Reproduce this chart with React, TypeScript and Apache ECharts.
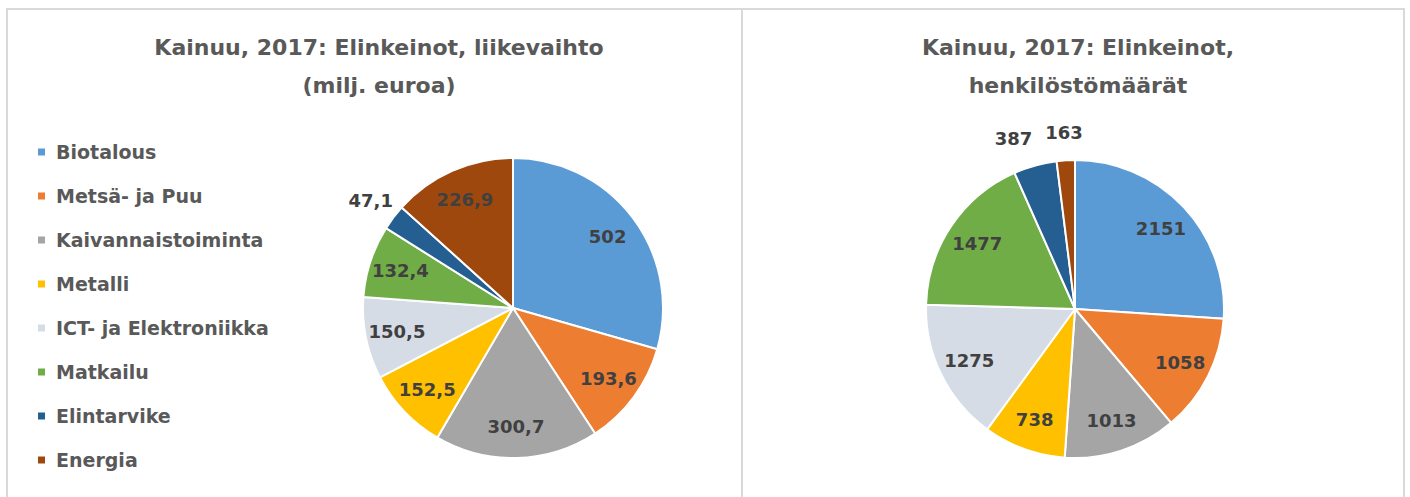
import React, { useEffect, useRef } from "react";
import * as echarts from "echarts";

const categories = [
  "Biotalous",
  "Metsä- ja Puu",
  "Kaivannaistoiminta",
  "Metalli",
  "ICT- ja Elektroniikka",
  "Matkailu",
  "Elintarvike",
  "Energia",
];
const turnover = [502, 193.6, 300.7, 152.5, 150.5, 132.4, 47.1, 226.9];
const personnel = [2151, 1058, 1013, 738, 1275, 1477, 387, 163];
const colors = ["#5B9BD5", "#ED7D31", "#A5A5A5", "#FFC000", "#D6DCE5", "#70AD47", "#255E91", "#9E480E"];
const outsideLeft = ["Elintarvike"];
const outsideRight = ["Elintarvike", "Energia"];
const titleLeft = "Kainuu, 2017: Elinkeinot, liikevaihto\n(milj. euroa)";
const titleRight = "Kainuu, 2017: Elinkeinot,\nhenkilöstömäärät";

const FONT = "'DejaVu Sans', 'Open Sans', sans-serif";
const fmt = (v: number) => String(v).replace(".", ",");

function pieSeries(
  values: number[],
  center: [number, number],
  r: number,
  outside: string[],
  outerLayout: (p: any) => any
) {
  const main = {
    type: "pie",
    center,
    radius: [0, r],
    startAngle: 90,
    clockwise: true,
    label: { show: false },
    labelLine: { show: false },
    emphasis: { disabled: true },
    itemStyle: { borderColor: "#ffffff", borderWidth: 2 },
    data: categories.map((name, i) => ({ name, value: values[i], itemStyle: { color: colors[i] } })),
  };
  const labelStyle = {
    position: "inside",
    formatter: (p: any) => fmt(p.value),
    fontFamily: FONT,
    fontSize: 18,
    fontWeight: "bold",
    color: "#404040",
  };
  const inner = {
    type: "pie",
    center,
    radius: [r * 0.54, r],
    startAngle: 90,
    silent: true,
    avoidLabelOverlap: false,
    emphasis: { disabled: true },
    labelLine: { show: false },
    labelLayout: { hideOverlap: false },
    itemStyle: { color: "transparent", borderWidth: 0 },
    label: labelStyle,
    data: categories.map((name, i) => ({
      name,
      value: values[i],
      itemStyle: { color: "transparent" },
      label: { show: !outside.includes(name) },
    })),
  };
  const outer = {
    ...inner,
    radius: [r, r * 1.34],
    labelLayout: outerLayout,
    data: categories.map((name, i) => ({
      name,
      value: values[i],
      itemStyle: { color: "transparent" },
      label: { show: outside.includes(name) },
    })),
  };
  return [main, inner, outer];
}

export default function App() {
  const ref = useRef<HTMLDivElement>(null);
  useEffect(() => {
    if (!ref.current) return;
    const chart = echarts.init(ref.current, undefined, { renderer: "svg" });
    const titleStyle = {
      fontFamily: FONT,
      fontSize: 22,
      fontWeight: "bold",
      color: "#595959",
      lineHeight: 38,
    };
    chart.setOption({
      animation: false,
      backgroundColor: "#ffffff",
      title: [
        { text: titleLeft, left: 374, top: 23, textAlign: "center", textStyle: titleStyle },
        { text: titleRight, left: 1073, top: 23, textAlign: "center", textStyle: titleStyle },
      ],
      legend: {
        orient: "vertical",
        left: 31,
        top: 137,
        icon: "rect",
        itemWidth: 9,
        itemHeight: 9,
        itemGap: 24,
        data: categories,
        selectedMode: false,
        textStyle: {
          fontFamily: FONT,
          fontSize: 19,
          fontWeight: "bold",
          color: "#595959",
          lineHeight: 20,
          padding: [0, 0, 0, 5],
        },
      },
      graphic: [
        {
          type: "rect",
          shape: { x: 7, y: 9, width: 1397, height: 500 },
          style: { fill: "none", stroke: "#d9d9d9", lineWidth: 2 },
          silent: true,
        },
        {
          type: "line",
          shape: { x1: 742, y1: 9, x2: 742, y2: 500 },
          style: { stroke: "#d9d9d9", lineWidth: 2 },
          silent: true,
        },
      ],
      series: [
        ...pieSeries(turnover, [513, 308], 150, outsideLeft, () => ({ hideOverlap: false })),
        ...pieSeries(personnel, [1075, 309], 149, outsideRight, (p: any) => ({
          hideOverlap: false,
          dx: p.dataIndex === 6 ? -14 : 0,
        })),
      ],
    });
    return () => chart.dispose();
  }, []);
  return (
    <div
      ref={ref}
      style={{ position: "fixed", left: 0, top: 0, width: 1410, height: 497 }}
    />
  );
}
